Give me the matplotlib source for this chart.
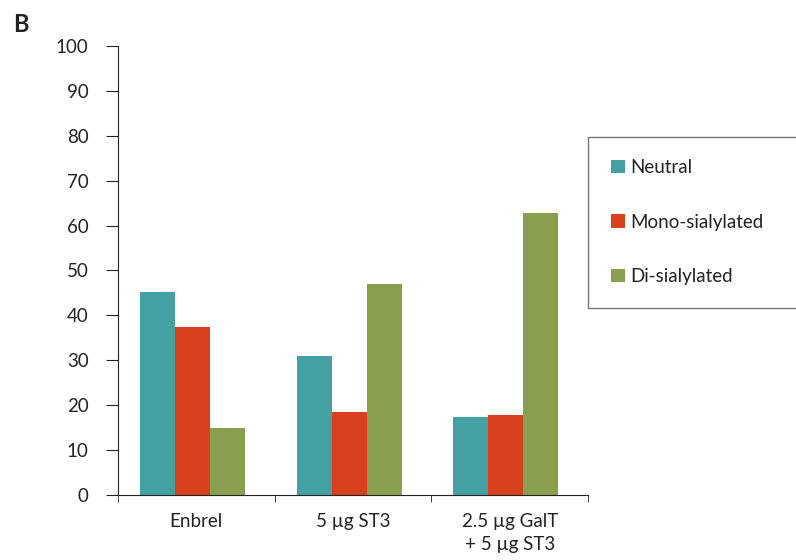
import matplotlib.pyplot as plt
import numpy as np

plt.rcParams['font.family'] = ['Lato', 'DejaVu Sans']

categories = ['Enbrel', '5 µg ST3', '2.5 µg GalT\n+ 5 µg ST3']
series = ['Neutral', 'Mono-sialylated', 'Di-sialylated']
neutral = [45.3, 30.9, 17.3]
mono = [37.5, 18.4, 17.8]
di = [14.9, 47.0, 62.7]
colors = ['#45A0A3', '#D9401E', '#8A9E50']


def plot_bars():
    fig = plt.figure(figsize=(7.96, 5.6), dpi=100)
    ax = fig.add_axes([0.148, 0.116, 0.591, 0.802])

    x = np.arange(len(categories))
    w = 0.223
    for i, (vals, name) in enumerate(zip([neutral, mono, di], series)):
        ax.bar(x + (i - 1) * w - 0.025, vals, w, color=colors[i], label=name)

    ax.set_xlim(-0.5, 2.5)
    ax.set_ylim(0, 100)
    ax.set_yticks(range(0, 101, 10))
    ax.set_xticks(x)
    ax.set_xticklabels(categories, fontsize=13.5, color='#222222', linespacing=1.45)
    ax.set_xticks([-0.5, 0.5, 1.5, 2.5], minor=True)
    ax.tick_params(axis='x', which='major', length=0, pad=13)
    ax.tick_params(axis='x', which='minor', length=5, direction='out', color='#222222')
    ax.tick_params(axis='y', length=9, labelsize=13.5, labelcolor='#222222', color='#222222', pad=12)
    for s in ['top', 'right']:
        ax.spines[s].set_visible(False)
    for s in ['left', 'bottom']:
        ax.spines[s].set_color('#222222')

    leg = fig.legend(loc='upper left', bbox_to_anchor=(0.739, 0.452, 0.27, 0.304),
                     mode='expand', frameon=True, fancybox=False, fontsize=13.5,
                     labelspacing=2.0, handlelength=0.75, handleheight=0.75,
                     handletextpad=0.3, borderpad=1.2, borderaxespad=0)
    leg.get_frame().set_edgecolor('#555555')
    leg.get_frame().set_linewidth(1.0)
    for t in leg.get_texts():
        t.set_color('#222222')

    fig.text(0.017, 0.943, 'B', fontsize=17, fontweight='bold', color='#222222')

    fig.savefig('out.png', dpi=100)


if __name__ == '__main__':
    plot_bars()
